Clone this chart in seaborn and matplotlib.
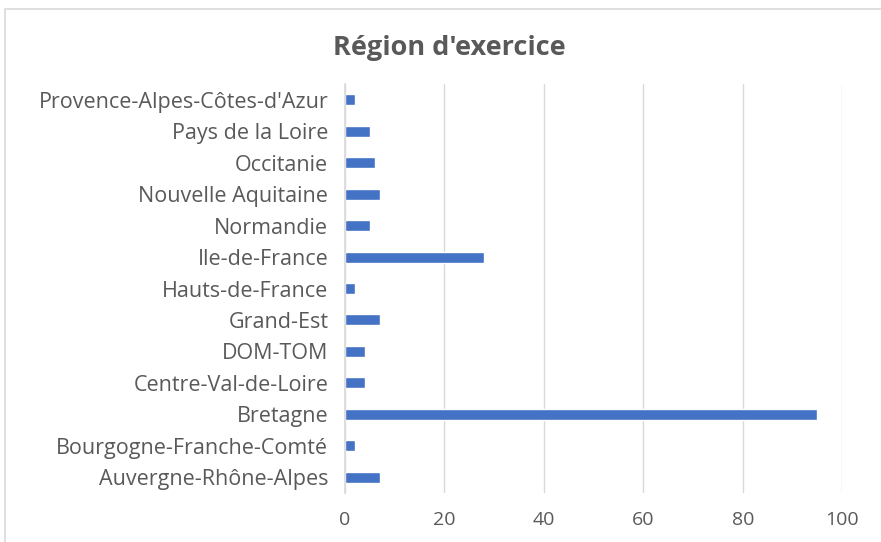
import matplotlib
matplotlib.use("Agg")
import matplotlib.pyplot as plt
import seaborn as sns
import pandas as pd
from matplotlib.patches import Rectangle

regions = ["Provence-Alpes-Côtes-d'Azur", "Pays de la Loire", "Occitanie",
           "Nouvelle Aquitaine", "Normandie", "Ile-de-France", "Hauts-de-France",
           "Grand-Est", "DOM-TOM", "Centre-Val-de-Loire", "Bretagne",
           "Bourgogne-Franche-Comté", "Auvergne-Rhône-Alpes"]
values = [2, 5, 6, 7, 5, 28, 2, 7, 4, 4, 95, 2, 7]
x_ticks = [0, 20, 40, 60, 80, 100]

df = pd.DataFrame({"region": regions, "value": values})

sns.set_theme(style="white")
plt.rcParams['font.family'] = ['Open Sans', 'DejaVu Sans']

fig = plt.figure(figsize=(8.81, 5.42), dpi=100)
ax = fig.add_axes([0.3916, 0.0904, 0.5644, 0.7546])

sns.barplot(data=df, y="region", x="value", orient="h", color="#4472C4",
            width=0.35, saturation=1, ax=ax)

ax.set_xlim(0, 100)
ax.set_xticks(x_ticks)
ax.set_xticklabels([str(t) for t in x_ticks])
ax.grid(axis="x", color="#D9D9D9", linewidth=1)
ax.set_axisbelow(True)
for s in ["top", "right", "bottom"]:
    ax.spines[s].set_visible(False)
ax.spines["left"].set_color("#D9D9D9")
ax.spines["left"].set_linewidth(1.2)
ax.set_xlabel("")
ax.set_ylabel("")
ax.tick_params(axis="both", length=0, colors="#595959")
ax.tick_params(axis="y", labelsize=15.5, pad=12)
ax.tick_params(axis="x", labelsize=14, pad=13)

fig.text(449 / 881, 1 - 48 / 542, "Région d'exercice", ha="center", va="center",
         fontsize=19.5, fontweight="bold", color="#595959")

fig.patches.append(Rectangle((5/881, -0.01), 1.0, 1 - 9/542 + 0.01,
                             transform=fig.transFigure, fill=False,
                             edgecolor="#D9D9D9", linewidth=1.2))

fig.savefig("out.png", dpi=100)
